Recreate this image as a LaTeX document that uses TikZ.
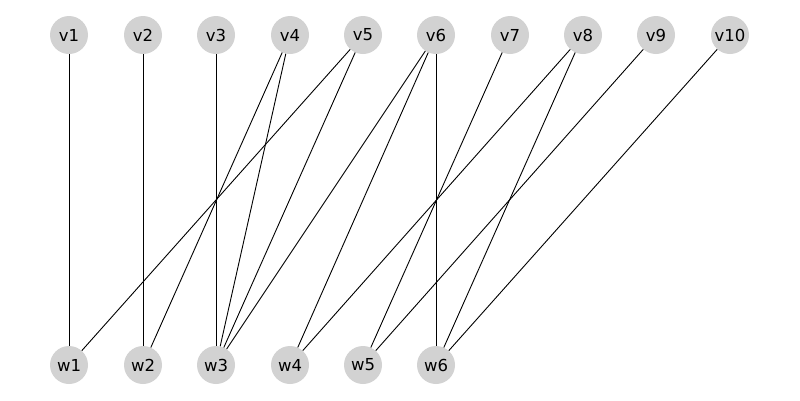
\documentclass[tikz,border=0pt]{standalone}
\usepackage{fontspec}
\setmainfont{DejaVu Sans}
\usetikzlibrary{positioning}

\begin{document}
\begin{tikzpicture}[x=1pt, y=-1pt,
		vert/.style={circle, fill=lightgray!70, minimum size=38pt, inner sep=0pt, font=\fontsize{16.5}{20}\selectfont},
		edge/.style={draw=black, line width=0.9pt}]
			\useasboundingbox (0,0) rectangle (800,400);
			% top row
			\foreach \i/\x in {1/69, 2/143, 3/216, 4/290, 5/363, 6/436, 7/510, 8/583, 9/656, 10/730}
				\node[vert] (v\i) at (\x,35) {v\i};
			% bottom row
			\foreach \i/\x in {1/69, 2/143, 3/216, 4/290, 5/363, 6/436}
				\node[vert] (w\i) at (\x,365) {w\i};
			% edges
			\foreach \a/\b in {1/1, 2/2, 3/3, 4/2, 4/3, 5/1, 5/3, 6/3, 6/4, 6/6, 7/5, 8/4, 8/6, 9/5, 10/6}
				\draw[edge] (v\a) -- (w\b);
		\end{tikzpicture}
\end{document}
